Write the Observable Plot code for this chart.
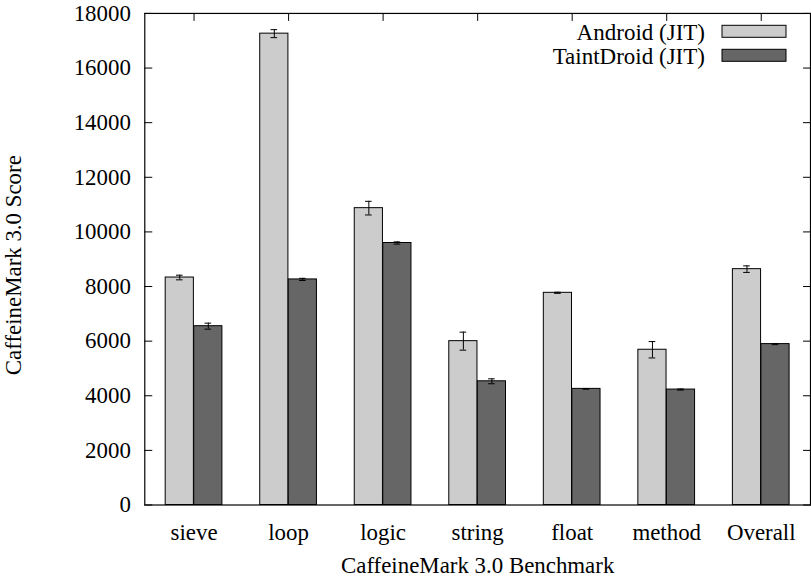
<!DOCTYPE html>
<html>
<head>
<meta charset="utf-8">
<script src="https://cdn.jsdelivr.net/npm/d3@7"></script>
<script src="https://cdn.jsdelivr.net/npm/@observablehq/plot@0.6"></script>
<style>
  html, body { margin: 0; padding: 0; background: #fff; overflow: hidden; }
  #wrap { position: relative; width: 811px; height: 581px; overflow: hidden; }
  #legend { position: absolute; left: 0; top: 0; pointer-events: none; }
  text { font-family: "Liberation Serif", "Times New Roman", serif; }
</style>
</head>
<body>
<div id="wrap"></div>
<script>
// ---- data ----
const categories = ["sieve", "loop", "logic", "string", "float", "method", "Overall"];
const series = ["Android (JIT)", "TaintDroid (JIT)"];
const androidValues = [8330, 17260, 10870, 6000, 7770, 5685, 8636];
const androidErrors = [85, 146, 250, 330, 20, 300, 120];
const taintValues = [6548, 8260, 9594, 4530, 4252, 4227, 5892];
const taintErrors = [110, 40, 40, 90, 15, 20, 20];
const yTicks = [0, 2000, 4000, 6000, 8000, 10000, 12000, 14000, 16000, 18000];
const seriesColors = ["#cccccc", "#666666"];

// ---- layout ----
const W = 815, H = 581;
const mL = 145, mR = 1, mT = 13, mB = 74;
const pInner = 0.4, pOuter = 0.2;
const step = (W - mL - mR) / (categories.length - pInner + 2 * pOuter);
const bw = step * (1 - pInner);
const half = bw / 2;
const capW = 7;
const font = "Liberation Serif";
const fs = 23;
const noLabel = () => "";

const androidRows = categories.map((c, i) => ({cat: c, v: androidValues[i], e: androidErrors[i]}));
const taintRows = categories.map((c, i) => ({cat: c, v: taintValues[i], e: taintErrors[i]}));

function errMarks(rows, offset) {
  return [
    Plot.ruleX(rows, {x: "cat", y1: d => d.v - d.e, y2: d => d.v + d.e, dx: offset - bw / 2, stroke: "black", strokeWidth: 1}),
    Plot.tickY(rows, {x: "cat", y: d => d.v - d.e, insetLeft: offset - capW / 2, insetRight: bw - offset - capW / 2, stroke: "black", strokeWidth: 1}),
    Plot.tickY(rows, {x: "cat", y: d => d.v + d.e, insetLeft: offset - capW / 2, insetRight: bw - offset - capW / 2, stroke: "black", strokeWidth: 1})
  ];
}

const chart = Plot.plot({
  width: W,
  height: H,
  marginLeft: mL,
  marginRight: mR,
  marginTop: mT,
  marginBottom: mB,
  style: {fontFamily: font, fontSize: fs + "px", color: "black", background: "white", overflow: "visible"},
  x: {domain: categories, paddingInner: pInner, paddingOuter: pOuter, label: null},
  y: {domain: [0, 18000], label: null},
  marks: [
    // inward ticks
    Plot.axisX({anchor: "bottom", tickSize: -7, tickFormat: noLabel, label: null}),
    Plot.axisX({anchor: "top", tickSize: -7, tickFormat: noLabel, label: null}),
    Plot.axisY({anchor: "left", ticks: yTicks, tickSize: -8, tickFormat: noLabel, label: null}),
    Plot.axisY({anchor: "right", ticks: yTicks, tickSize: -8, tickFormat: noLabel, label: null}),
    // bars
    Plot.barY(androidRows, {x: "cat", y: "v", fill: seriesColors[0], stroke: "black", strokeWidth: 1, insetRight: half}),
    ...errMarks(androidRows, half / 2),
    Plot.barY(taintRows, {x: "cat", y: "v", fill: seriesColors[1], stroke: "black", strokeWidth: 1, insetLeft: half}),
    ...errMarks(taintRows, half + half / 2),
    // labels
    Plot.axisX({anchor: "bottom", tickSize: 0, tickPadding: 19, fontSize: fs, label: null}),
    Plot.axisY({anchor: "left", ticks: yTicks, tickSize: 0, tickPadding: 14, tickFormat: d => String(d), fontSize: fs, label: null}),
    Plot.text(["CaffeineMark 3.0 Benchmark"], {frameAnchor: "bottom", dy: 68, fontSize: fs, fill: "black"}),
    Plot.text(["CaffeineMark 3.0 Score"], {frameAnchor: "left", textAnchor: "middle", dx: -132, dy: 6, rotate: -90, fontSize: fs, fill: "black"}),
    Plot.frame({stroke: "black", strokeWidth: 1.2})
  ]
});

const wrap = document.getElementById("wrap");
wrap.appendChild(chart);

// ---- legend (overlay inside plot area, top right) ----
const ns = "http://www.w3.org/2000/svg";
const lg = document.createElementNS(ns, "svg");
lg.setAttribute("id", "legend");
lg.setAttribute("width", 811);
lg.setAttribute("height", 581);
const legendTextRight = 705, boxX = 722, boxW = 64, boxH = 12;
const rowTop = [25.3, 49.3];
series.forEach((name, i) => {
  const t = document.createElementNS(ns, "text");
  t.setAttribute("x", legendTextRight);
  t.setAttribute("y", rowTop[i] + 14.7);
  t.setAttribute("text-anchor", "end");
  t.setAttribute("font-size", fs);
  t.setAttribute("font-family", font);
  t.setAttribute("fill", "black");
  t.textContent = name;
  lg.appendChild(t);
  const r = document.createElementNS(ns, "rect");
  r.setAttribute("x", boxX);
  r.setAttribute("y", rowTop[i]);
  r.setAttribute("width", boxW);
  r.setAttribute("height", boxH);
  r.setAttribute("fill", seriesColors[i]);
  r.setAttribute("stroke", "black");
  r.setAttribute("stroke-width", 1);
  lg.appendChild(r);
});
wrap.appendChild(lg);
</script>
</body>
</html>
